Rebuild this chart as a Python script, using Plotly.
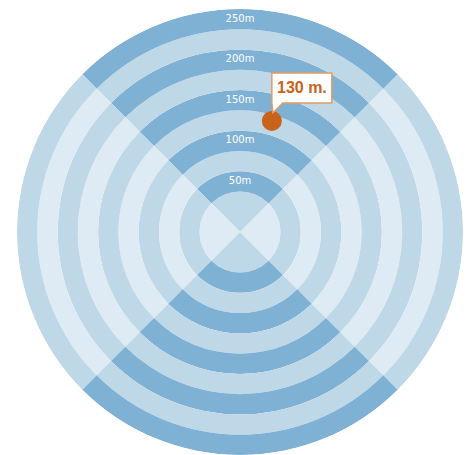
import math
import plotly.graph_objects as go

# ---- data ----
ring_inner = [-12.5, 37.5, 62.5, 87.5, 112.5, 137.5, 162.5, 187.5, 212.5, 237.5]
ring_outer = [37.5, 62.5, 87.5, 112.5, 137.5, 162.5, 187.5, 212.5, 237.5, 262.5]
quadrant_theta = [0, 90, 180, 270]
label_r = [50, 100, 150, 200, 250]
label_text = ["50m", "100m", "150m", "200m", "250m"]
point_r = [130]
point_theta = [74]
point_label = ["130 m."]

DARK = "#7fb1d4"
MED = "#bfd8e8"
LIGHT = "#deebf4"
ORANGE = "#c9621b"

W, H = 472, 455
ML, MR, MT, MB = 9, 17, 1, 8
R_MIN, R_MAX = ring_inner[0], ring_outer[-1]

fig = go.Figure()

for i, (a, b) in enumerate(zip(ring_inner, ring_outer)):
    for q in quadrant_theta:
        vertical = q in (90, 270)
        if vertical:
            col = MED if i % 2 == 0 else DARK
        else:
            col = LIGHT if i % 2 == 0 else MED
        fig.add_trace(go.Barpolar(
            r=[b - a], base=[a], theta=[q], width=[90],
            marker=dict(color=col, line=dict(width=0)),
            hoverinfo="skip", showlegend=False))

fig.add_trace(go.Scatterpolar(
    r=label_r, theta=[90] * len(label_r), mode="text", text=label_text,
    textfont=dict(color="white", size=10, family="DejaVu Sans"),
    hoverinfo="skip", showlegend=False))

fig.add_trace(go.Scatterpolar(
    r=point_r, theta=point_theta, mode="markers",
    marker=dict(size=20, color=ORANGE, line=dict(width=0)),
    hoverinfo="skip", showlegend=False))

# ---- callout placed from the point's data position ----
pw, ph = W - ML - MR, H - MT - MB
cx, cy = ML + pw / 2, MT + ph / 2
rad = min(pw, ph) / 2
s = rad / (R_MAX - R_MIN)
th = math.radians(point_theta[0])
mx = cx + (point_r[0] - R_MIN) * s * math.cos(th)
my = cy - (point_r[0] - R_MIN) * s * math.sin(th)

def px(x):
    return (x - ML) / pw

def py(y):
    return (H - MB - y) / ph

left, right, top, bottom = mx, mx + 60, my - 48, my - 18
pts = [(left, top), (right, top), (right, bottom), (mx + 11, bottom),
       (mx + 1, my - 8), (mx, bottom), (left, bottom)]
path = "M " + " L ".join(f"{px(x):.5f},{py(y):.5f}" for x, y in pts) + " Z"
fig.add_shape(type="path", path=path, xref="paper", yref="paper",
              fillcolor="white", line=dict(color="#e39a66", width=1.5), layer="above")
fig.add_annotation(x=px((left + right) / 2), y=py((top + bottom) / 2),
                   xref="paper", yref="paper", xanchor="center", yanchor="middle",
                   text=f"<b>{point_label[0]}</b>",
                   showarrow=False, font=dict(color=ORANGE, size=16, family="Liberation Sans"))

fig.update_layout(
    width=W, height=H,
    margin=dict(l=ML, r=MR, t=MT, b=MB, pad=0),
    paper_bgcolor="white", plot_bgcolor="white",
    polar=dict(
        domain=dict(x=[0, 1], y=[0, 1]),
        bgcolor="rgba(0,0,0,0)",
        bargap=0,
        radialaxis=dict(range=[R_MIN, R_MAX], visible=False, showgrid=False),
        angularaxis=dict(visible=False, showgrid=False, direction="counterclockwise", rotation=0),
    ),
)

fig.write_html("out.html")
